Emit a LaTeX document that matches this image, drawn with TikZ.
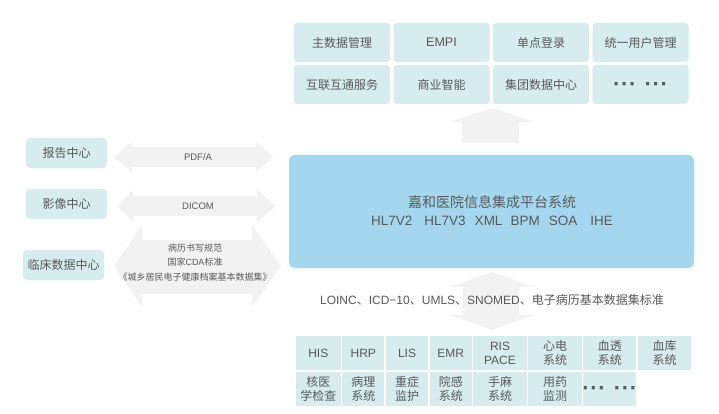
\documentclass[tikz,border=0pt]{standalone}
\usepackage{fontspec}
\setmainfont{Liberation Sans}
\newfontfamily\cjk{Noto Sans CJK SC}
\newfontfamily\lat{Liberation Sans}
\definecolor{cellc}{HTML}{D6ECEF}
\definecolor{mainc}{HTML}{A4D7EE}
\definecolor{arrc}{HTML}{F2F2F2}
\definecolor{txt}{HTML}{595959}
\newcommand\dotgroups{{\lat\bfseries\fontsize{22}{22}\selectfont ·\hspace{0.7pt}·\hspace{0.7pt}·\hspace{8pt}·\hspace{0.7pt}·\hspace{0.7pt}·}}
\tikzset{
  topbox/.style={fill=cellc, rounded corners=3pt, inner sep=0pt, minimum width=96pt, minimum height=39pt, text=txt, font=\cjk\fontsize{12}{14}\selectfont},
  leftbox/.style={fill=cellc, rounded corners=4pt, inner sep=0pt, minimum width=81pt, minimum height=30pt, text=txt, font=\cjk\fontsize{12}{14}\selectfont},
  cell/.style={fill=cellc, draw=white, line width=1.3pt, inner sep=0pt, minimum height=36pt, align=center, text=txt, font=\cjk\fontsize{12}{14}\selectfont},
  arrowfill/.style={fill=arrc},
  lbl/.style={text=txt, inner sep=0pt, align=center},
  dotlbl/.style={text=txt, inner sep=0pt, yshift=-2.5pt}
}
\begin{document}
\begin{tikzpicture}[x=1pt,y=-1pt]
\fill[white] (0,0) rectangle (719,414);
\useasboundingbox (0,0) rectangle (719,414);

% top boxes
\node[topbox] (mdm)  at (342,42.5)   {主数据管理};
\node[topbox] (empi) at (441.5,42.5) {{\lat\fontsize{12.5}{14}\selectfont EMPI}};
\node[topbox] (sso)  at (541,42.5)   {单点登录};
\node[topbox] (uum)  at (640.5,42.5) {统一用户管理};
\node[topbox] (ics)  at (342,84.5)   {互联互通服务};
\node[topbox] (bi)   at (441.5,84.5) {商业智能};
\node[topbox] (gdc)  at (541,84.5)   {集团数据中心};
\node[topbox] (tdotsbox) at (640.5,84.5) {};
\node[dotlbl] (tdots) at (tdotsbox.center) {\dotgroups};

% up arrow
\fill[arrowfill] (492,108) -- (535,122) -- (519,122) -- (519,143) -- (462,143) -- (462,122) -- (449,122) -- cycle;

% central platform
\node[fill=mainc, rounded corners=6pt, inner sep=0pt, minimum width=405pt, minimum height=113pt] (plat) at (491.5,211.5) {};
\node[lbl, font=\cjk\fontsize{14}{16}\selectfont] (plattitle) at (492,202) {嘉和医院信息集成平台系统};
\node[lbl, font=\lat\fontsize{13.5}{16}\selectfont] (platstd) at (492,221) {HL7V2\hspace{12pt}HL7V3\hspace{9pt}XML\hspace{8pt}BPM\hspace{9pt}SOA\hspace{13pt}IHE};

% left boxes
\node[leftbox] (rep) at (66.5,153)  {报告中心};
\node[leftbox] (img) at (66.5,204)  {影像中心};
\node[leftbox] (cdc) at (63.5,265)  {临床数据中心};

% left double arrows
\fill[arrowfill] (114,157) -- (132,142) -- (132,147) -- (256,147) -- (256,142) -- (273,157) -- (256,172) -- (256,167) -- (132,167) -- (132,172) -- cycle;
\fill[arrowfill] (117,206) -- (133,190) -- (133,196) -- (257,196) -- (257,190) -- (276,206) -- (257,222) -- (257,216) -- (133,216) -- (133,222) -- cycle;
\fill[arrowfill] (114,266) -- (142,225) -- (142,240) -- (252,240) -- (252,225) -- (281,266) -- (252,307) -- (252,294) -- (142,294) -- (142,307) -- cycle;

\node[lbl, font=\lat\fontsize{9.5}{11}\selectfont] (pdfa) at (198,157.5) {PDF/A};
\node[lbl, font=\lat\fontsize{9.5}{11}\selectfont] (dicom) at (198,206.5) {DICOM};
\node[lbl, font=\cjk\fontsize{9}{14.5}\selectfont] (cdastd) at (195,262.5) {病历书写规范\\国家{\lat CDA}标准\\《城乡居民电子健康档案基本数据集》};

% vertical double arrow
\fill[arrowfill] (492,272) -- (534,287) -- (519,287) -- (519,315) -- (534,315) -- (492,330) -- (450,315) -- (463,315) -- (463,287) -- (450,287) -- cycle;
\node[lbl, font=\lat\fontsize{12}{14}\selectfont] (terms) at (492,300) {LOINC{\cjk 、}ICD−10{\cjk 、}UMLS{\cjk 、}SNOMED{\cjk 、电子病历基本数据集标准}};

% bottom grid, row 1
\node[cell, minimum width=46.5pt] (his)  at (318.25,353) {{\lat HIS}};
\node[cell, minimum width=43.5pt] (hrp)  at (363.25,353) {{\lat HRP}};
\node[cell, minimum width=44pt]   (lis)  at (407,353)    {{\lat LIS}};
\node[cell, minimum width=43.5pt] (emr)  at (450.75,353) {{\lat EMR}};
\node[cell, minimum width=55pt]   (ris)  at (500,353)    {{\lat RIS}\\{\lat PACE}};
\node[cell, minimum width=55pt]   (ecg)  at (555,353)    {心电\\系统};
\node[cell, minimum width=54.5pt] (dial) at (609.75,353) {血透\\系统};
\node[cell, minimum width=55pt]   (bank) at (664.5,353)  {血库\\系统};
% row 2
\node[cell, minimum width=46.5pt] (nuc)  at (318.25,389) {核医\\学检查};
\node[cell, minimum width=43.5pt] (path) at (363.25,389) {病理\\系统};
\node[cell, minimum width=44pt]   (icu)  at (407,389)    {重症\\监护};
\node[cell, minimum width=43.5pt] (inf)  at (450.75,389) {院感\\系统};
\node[cell, minimum width=55pt]   (anes) at (500,389)    {手麻\\系统};
\node[cell, minimum width=55pt]   (drug) at (555,389)    {用药\\监测};
\node[cell, minimum width=54.5pt] (bdotsbox) at (609.75,389) {};
\node[dotlbl] (bdots) at (bdotsbox.center) {\dotgroups};
\end{tikzpicture}
\end{document}
